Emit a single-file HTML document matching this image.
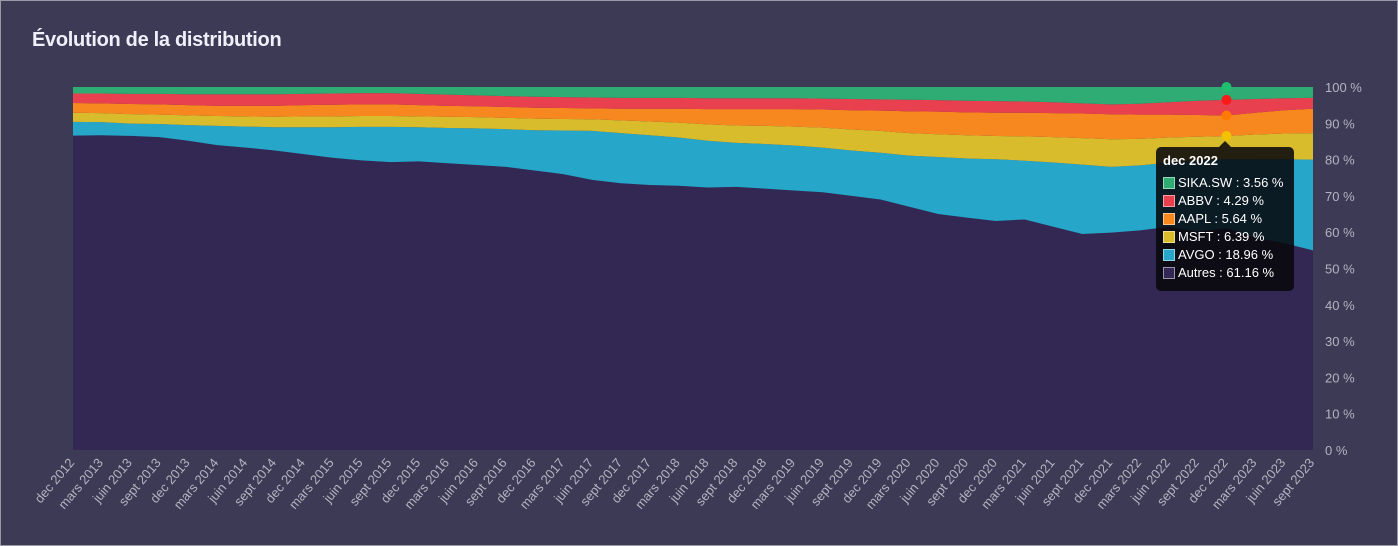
<!DOCTYPE html>
<html><head><meta charset="utf-8">
<style>
html,body{margin:0;padding:0;background:#3d3a56;}
#wrap{position:relative;width:1396px;height:544px;border:1px solid #9a99a8;background:#3d3a56;font-family:"Liberation Sans",sans-serif;overflow:hidden;}
#title{position:absolute;left:31px;top:28px;font-size:20px;font-weight:bold;color:#eef0fa;letter-spacing:-0.3px;}
#tip{position:absolute;left:1155px;top:146px;width:138px;height:144px;background:rgba(8,8,12,0.88);border-radius:5px;color:#fff;font-size:13px;}
#tip .h{position:absolute;left:7px;top:6px;font-weight:bold;}
#tip .r{position:absolute;left:7px;height:16px;line-height:16px;white-space:nowrap;}
#tip .sw{display:inline-block;width:12px;height:12px;border:1px solid rgba(255,255,255,0.5);vertical-align:-2px;margin-right:3px;box-sizing:border-box;}
#arrow{position:absolute;left:1218px;top:140px;width:0;height:0;border-left:6px solid transparent;border-right:6px solid transparent;border-bottom:6px solid rgba(8,8,12,0.88);}
</style></head><body>
<div id="wrap">
<div id="title">Évolution de la distribution</div>
<svg id="chart" width="1396" height="544" style="position:absolute;left:0;top:0"></svg>
<div id="arrow"></div>
<div id="tip">
<div class="h">dec 2022</div>
<div class="r" style="top:28px"><span class="sw" style="background:#2fac73"></span>SIKA.SW : 3.56 %</div>
<div class="r" style="top:46px"><span class="sw" style="background:#e8404e"></span>ABBV : 4.29 %</div>
<div class="r" style="top:64px"><span class="sw" style="background:#f7871f"></span>AAPL : 5.64 %</div>
<div class="r" style="top:82px"><span class="sw" style="background:#d9bc2b"></span>MSFT : 6.39 %</div>
<div class="r" style="top:100px"><span class="sw" style="background:#26a6c8"></span>AVGO : 18.96 %</div>
<div class="r" style="top:118px"><span class="sw" style="background:#332853"></span>Autres : 61.16 %</div>
</div>
</div>
<script>
const categories=[];
const monthsQ=["dec","mars","juin","sept"];
for(let i=0;i<44;i++){const m=monthsQ[i%4];const y=2012+Math.floor((i+3)/4);categories.push(m+" "+y);}
const autres=[86.6,86.8,86.7,86.2,85.2,84,83.3,82.5,81.5,80.5,79.8,79.3,79.5,79,78.5,78,77,76,74.4,73.5,73,72.8,72.3,72.5,72,71.5,71,70,69,67,65,64,63.1,63.5,61.5,59.5,59.9,60.5,61.5,60.2,61.16,58.5,57,55];
const avgo=[3.8,3.6,3.4,3.6,4.3,5.3,5.8,6.4,7.4,8.4,9.2,9.7,9.4,9.7,10.1,10.4,11.1,12,13.5,13.8,13.7,13.3,12.9,12.1,12.3,12.4,12.3,12.5,12.9,14.1,15.7,16.3,17,16.2,17.7,19.1,18.1,17.9,17.7,19.5,18.96,21.6,23.1,25];
const msft=[2.5,2.5,2.6,2.6,2.7,2.7,2.8,2.9,3,3,3,3,3,3.1,3.1,3.1,3.2,3.2,3.2,3.5,3.8,4.1,4.5,4.8,5,5.2,5.5,5.8,6,6.2,6.3,6.4,6.4,6.7,7,7.3,7.6,7.3,6.9,6.6,6.39,6.8,7.1,7.3];
const aapl=[2.7,2.7,2.8,2.8,2.8,2.8,2.9,3,3.1,3.2,3.2,3.2,3.1,3,3,3,3,3,3,3.2,3.5,3.8,4.2,4.5,4.6,4.8,5,5.3,5.6,6,6.2,6.3,6.4,6.5,6.6,6.8,6.9,6.7,6.3,6,5.64,6,6.4,6.7];
const abbv=[2.6,2.7,2.8,2.9,3,3.2,3.2,3.2,3.1,3.1,3.1,3.1,3.1,3.1,3,3,3,3,3,3,3,3,3,3,3,3,3,3.1,3.1,3.2,3.2,3.2,3.2,3.1,3,2.8,2.7,3,3.4,3.9,4.29,3.8,3.3,3];
const sika=[1.8,1.8,1.9,1.9,2,2,2,2,1.9,1.8,1.7,1.7,1.9,2.1,2.3,2.5,2.7,2.8,2.9,3,3,3,3.1,3.1,3.1,3.1,3.2,3.3,3.4,3.5,3.6,3.8,3.9,4,4.2,4.5,4.8,4.6,4.2,3.8,3.56,3.3,3.1,3.0];
const yTicks=[0,10,20,30,40,50,60,70,80,90,100];
const tipIndex=40;

const NS="http://www.w3.org/2000/svg";
const svg=document.getElementById('chart');
const X0=72,X1=1312,Y0=449,Y1=86;
const n=categories.length;
const xs=i=>X0+(X1-X0)*i/(n-1);
const ys=v=>Y0-(Y0-Y1)*v/100;
function mk(t,a){const e=document.createElementNS(NS,t);for(const k in a)e.setAttribute(k,a[k]);svg.appendChild(e);return e;}
mk('rect',{x:X0,y:Y1,width:X1-X0,height:Y0-Y1,fill:'#332853'});
const series=[["autres",autres,"#332853"],["avgo",avgo,"#26a6c8"],["msft",msft,"#d9bc2b"],["aapl",aapl,"#f7871f"],["abbv",abbv,"#e8404e"],["sika",sika,"#2fac73"]];
const tot=autres.map((a,i)=>series.reduce((s,sr)=>s+sr[1][i],0));
let base=new Array(n).fill(0);
const tops=[];
series.forEach(([name,vals,col])=>{
  const top=base.map((b,i)=>b+vals[i]/tot[i]*100);
  let d="M"+xs(0)+","+ys(top[0]);
  for(let i=1;i<n;i++)d+=" L"+xs(i)+","+ys(top[i]);
  for(let i=n-1;i>=0;i--)d+=" L"+xs(i)+","+ys(base[i]);
  const p=mk('path',{d:d+"Z",fill:col});
  
  
  tops.push(top);
  base=top;
});
yTicks.forEach(v=>{
  const t=mk('text',{x:1324,y:ys(v)+5,fill:'#b4b3c0','font-size':'13'});
  t.textContent=v+" %";
  
  
});
categories.forEach((c,i)=>{
  const x=xs(i)+2,y=462;
  const t=mk('text',{x:x,y:y,fill:'#b4b3c0','font-size':'13','text-anchor':'end',transform:`rotate(-50 ${x} ${y})`});
  t.textContent=c;
  
  
});
const dotCols=["#f2c200","#ff7a00","#ff1a1a","#1fbf70"];
[2,3,4,5].forEach((k,j)=>{
  const c=mk('circle',{cx:xs(tipIndex),cy:ys(tops[k][tipIndex]),r:5,fill:dotCols[j]});
  
  
});
</script>
</body></html>
